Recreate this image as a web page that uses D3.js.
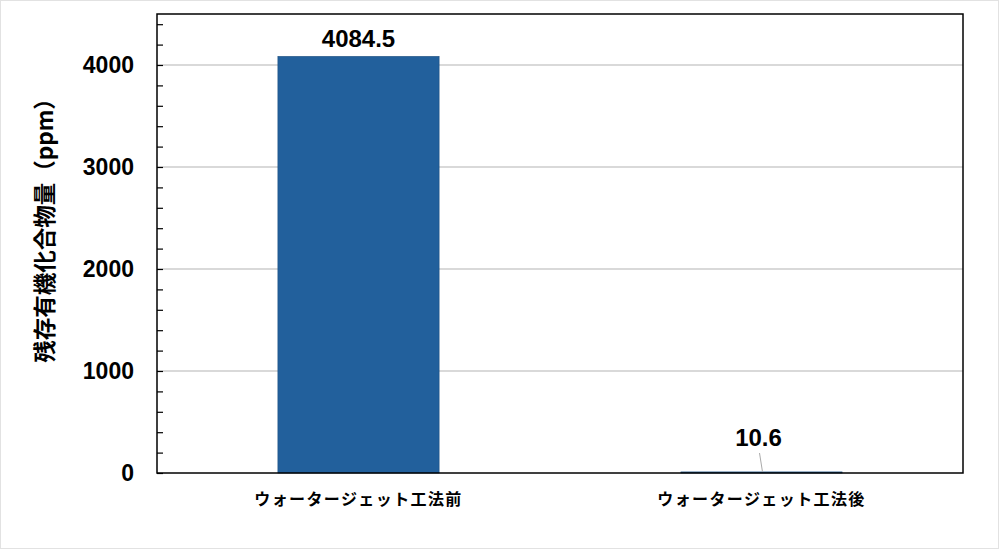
<!DOCTYPE html>
<html><head><meta charset="utf-8">
<script src="https://cdn.jsdelivr.net/npm/d3@7"></script>
<style>body{margin:0;background:#fff}svg{display:block}</style>
</head><body>
<svg id="c" width="1000" height="550"></svg>
<script>
const categories = ["ウォータージェット工法前", "ウォータージェット工法後"];
const values = [4084.5, 10.6];
const valueLabels = ["4084.5", "10.6"];
const majorTicks = [0, 1000, 2000, 3000, 4000];
const yLabel = "残存有機化合物量（ppm）";

const svg = d3.select("#c");
const m = {l:157, r:963, t:14, b:473};
svg.append("rect").attr("x",0.5).attr("y",0.5).attr("width",998).attr("height",548)
  .attr("fill","#fff").attr("stroke","#e2e2e2");

const x = d3.scaleBand().domain(categories).range([m.l, m.r]).paddingInner(0.6).paddingOuter(0.3);
const y = d3.scaleLinear().domain([0, 4500]).range([m.b, m.t]);

// gridlines
svg.append("g").selectAll("line").data(majorTicks.filter(d=>d>0)).join("line")
  .attr("x1", m.l).attr("x2", m.r).attr("y1", d=>y(d)).attr("y2", d=>y(d))
  .attr("stroke","#b3b3b3").attr("stroke-width",1);

// bars
svg.append("g").selectAll("rect").data(values).join("rect")
  .attr("x",(d,i)=>x(categories[i])).attr("width",x.bandwidth())
  .attr("y",d=>y(d)).attr("height",d=>y(0)-y(d))
  .attr("fill","#22609c").attr("stroke","#1d4f80").attr("stroke-width",0.6);

// minor ticks (inside)
const minor = d3.range(0, 4501, 200);
const yAxis = d3.axisRight(y).tickValues(minor).tickSize(6).tickFormat("");
const ga = svg.append("g").attr("transform",`translate(${m.l},0)`).call(yAxis);
ga.select(".domain").remove();
ga.selectAll("line").attr("stroke","#000").attr("stroke-width",1.2);

// tick labels
svg.append("g").selectAll("text").data(majorTicks).join("text")
  .attr("x",134).attr("y",d=>y(d)).attr("dy","0.36em").attr("text-anchor","end")
  .attr("font-family","Liberation Sans, Arial, sans-serif").attr("font-weight","bold")
  .attr("font-size",23).attr("fill","#000").text(d=>d);

// plot border
svg.append("rect").attr("x",m.l).attr("y",m.t).attr("width",m.r-m.l).attr("height",m.b-m.t)
  .attr("fill","none").attr("stroke","#000").attr("stroke-width",1.5);

// value labels
const lblY = [y(values[0]) - 9, 446];
const lblDx = [0, -3];
svg.append("g").selectAll("text").data(values).join("text")
  .attr("x",(d,i)=>x(categories[i])+x.bandwidth()/2 + lblDx[i])
  .attr("y",(d,i)=>lblY[i]).attr("text-anchor","middle")
  .attr("font-family","Liberation Sans, Arial, sans-serif").attr("font-weight","bold")
  .attr("font-size",24).attr("fill","#000").text((d,i)=>valueLabels[i]);
// leader line for small value
svg.append("line").attr("x1",x(categories[1])+x.bandwidth()/2-2).attr("y1",453)
  .attr("x2",x(categories[1])+x.bandwidth()/2+1).attr("y2",y(values[1]))
  .attr("stroke","#aaa").attr("stroke-width",1);

// category labels
svg.append("g").selectAll("text").data(categories).join("text")
  .attr("x",d=>x(d)+x.bandwidth()/2).attr("y",505).attr("text-anchor","middle")
  .attr("font-family","Noto Sans CJK JP, sans-serif").attr("font-weight","bold")
  .attr("font-size",16).attr("letter-spacing",1.4).attr("fill","#000").text(d=>d);

// y label
svg.append("text").attr("transform",`translate(53,225) rotate(-90)`)
  .attr("text-anchor","middle").attr("font-family","Noto Sans CJK JP, sans-serif")
  .attr("font-weight","bold").attr("font-size",22.5).attr("fill","#000").text(yLabel);
</script>
</body></html>
